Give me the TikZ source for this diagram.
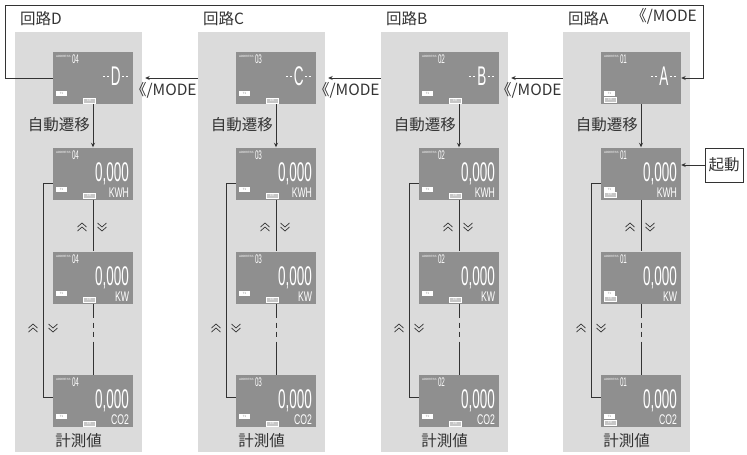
\documentclass[tikz,border=0pt]{standalone}
\usepackage{fontspec}
\usepackage{tikz}
\usetikzlibrary{arrows.meta}

\newfontfamily\jpfont{Noto Sans CJK JP}
\newfontfamily\segfont{Liberation Sans}[FakeStretch=0.5]
\newfontfamily\unitfont{Liberation Sans}[FakeStretch=0.62]
\newfontfamily\tinyfont{Liberation Sans}

\definecolor{panelgray}{gray}{0.86}
\definecolor{lcdgray}{gray}{0.56}
\definecolor{inkgray}{gray}{0.2}

\tikzset{
  panel/.style={fill=panelgray, minimum width=127pt, minimum height=420pt, inner sep=0pt},
  lcd/.style={fill=lcdgray, minimum width=80pt, minimum height=52pt, inner sep=0pt},
  jp/.style={font=\jpfont\fontsize{15.5}{18}\selectfont, text=inkgray, inner sep=0pt},
  big/.style={font=\segfont\fontsize{27}{27}\selectfont, text=white, inner sep=0pt},
  unit/.style={font=\unitfont\fontsize{14}{14}\selectfont, text=white, inner sep=0pt},
  addrnum/.style={font=\segfont\fontsize{12.5}{12.5}\selectfont, text=white, inner sep=0pt},
  tinytext/.style={font=\tinyfont\fontsize{3}{3}\selectfont, text=white, inner sep=0pt},
  tbox/.style={fill=white, text=lcdgray, font=\tinyfont\fontsize{3}{3}\selectfont, minimum width=11pt, minimum height=5pt, inner sep=0pt},
  chbox/.style={fill=gray!45, draw=white, line width=0.3pt, text=white, font=\tinyfont\fontsize{3}{3}\selectfont, minimum width=12pt, minimum height=5pt, inner sep=0pt},
  wire/.style={draw=inkgray, line width=0.8pt},
  conn/.style={wire, -{Stealth[length=4.5pt,width=4pt]}},
  upchev/.pic={\draw[inkgray, line width=0.7pt] (-4.5,0) -- (0,-4) -- (4.5,0) (-4.5,4) -- (0,0) -- (4.5,4);},
  dnchev/.pic={\draw[inkgray, line width=0.7pt] (-4.5,-4) -- (0,0) -- (4.5,-4) (-4.5,0) -- (0,4) -- (4.5,0);}
}

% common parts of one display: name, address, position of the CH box
\newcommand\lcdframe[3]{%
  \node[tinytext, anchor=west] (#1-adtxt) at ([shift={(3,5)}]#1.north west) {ADDRESS};
  \node[addrnum, anchor=base west] (#1-ad) at ([shift={(19,12)}]#1.north west) {#2};
  \node[tbox, anchor=north west] (#1-t) at ([shift={(3,39)}]#1.north west) {T1};
  \node[chbox, anchor=north west] (#1-ch) at ([shift={(#3)}]#1.north west) {CH};
}

\begin{document}
\begin{tikzpicture}[x=1pt,y=-1pt]
\useasboundingbox (0,0) rectangle (747,455);

% one column per circuit
\foreach \c/\px/\ad/\chx/\chy in {D/15/04/30/46, C/198/03/30/46, B/381/02/30/46, A/563/01/3/45} {
  \node[panel] (p\c) at (\px+63.5,242) {};
  \node[jp, anchor=west] (t\c) at (\px+5,19) {回路\c};

  % displays
  \node[lcd] (s1\c) at (\px+78,78) {};
  \node[lcd] (s2\c) at (\px+78,173.5) {};
  \node[lcd] (s3\c) at (\px+78,277.5) {};
  \node[lcd] (s4\c) at (\px+78,401) {};
  \foreach \r in {1,...,4} {\lcdframe{s\r\c}{\ad}{\chx,\chy}}

  % circuit letter
  \node[big, anchor=base] (s1\c-l) at ([shift={(63,34)}]s1\c.north west) {\c};
  \draw[white, line width=1pt, dash pattern=on 2.5pt off 1.5pt] ([shift={(50,25)}]s1\c.north west) -- ++(7,0);
  \draw[white, line width=1pt, dash pattern=on 2.5pt off 1.5pt] ([shift={(69,25)}]s1\c.north west) -- ++(7,0);

  % measured values
  \foreach \r/\u in {2/KWH, 3/KW, 4/CO2} {
    \node[big, anchor=base east] (s\r\c-v) at ([shift={(-4,34)}]s\r\c.north east) {0,000};
    \node[unit, anchor=base east] (s\r\c-u) at ([shift={(-4,50)}]s\r\c.north east) {\u};
  }

  % connectors
  \draw[conn] (s1\c) -- (s2\c);
  \draw[wire] (s2\c) -- (s3\c);
  \draw[wire, dash pattern=on 14pt off 5pt on 5pt off 4pt on 5pt off 5pt on 40pt] (s3\c) -- (s4\c);
  \draw[wire] ([yshift=-9.5pt]s2\c.west) -- ++(-9,0) |- ([yshift=4pt]s4\c.west);
  \pic at (\px+67,227) {upchev};
  \pic at (\px+87,227) {dnchev};
  \pic at (\px+18,328) {upchev};
  \pic at (\px+38,328) {dnchev};

  \node[jp, anchor=east] (auto\c) at (\px+75,125) {自動遷移};
  \node[jp] (meas\c) at (\px+63.5,441) {計測値};
}

% MODE steps between circuits
\foreach \a/\b in {C/D, B/C, A/B} {
  \draw[conn, shorten >=3pt] (p\a.west |- s1\a) -- (p\b.east |- s1\a);
  \path (p\a.west |- s1\a) ++(-1,12) node[jp, anchor=east] (m\a) {《/MODE};
}

% back from D to A
\coordinate (cornerL) at (5,5);
\coordinate (cornerR) at (703,5);
\draw[conn] (s1D.west) -| (cornerL) -- (cornerR) |- (s1A.east);
\node[jp, anchor=east] (mtop) at (697,16) {《/MODE};

% start
\node[jp, draw=inkgray, line width=0.8pt, minimum width=38pt, minimum height=34pt] (start) at (724,165) {起動};
\draw[conn] (start) -- (start -| s2A.east);

\end{tikzpicture}
\end{document}
